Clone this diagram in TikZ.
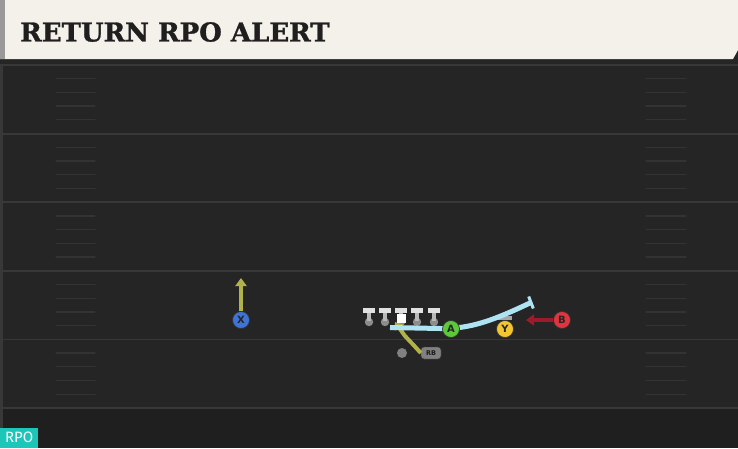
\documentclass[tikz,border=0pt]{standalone}
\usepackage{fontspec}
\newfontfamily\titlefont{DejaVu Serif Bold}[FakeBold=1.2]
\newfontfamily\labelfont{DejaVu Sans Bold}
\newfontfamily\badgefont{Fira Sans}
\usetikzlibrary{arrows.meta,calc}
\definecolor{field}{HTML}{252525}
\definecolor{yard}{HTML}{383838}
\definecolor{hash}{HTML}{333333}
\definecolor{cream}{HTML}{F4F1EA}
\definecolor{route}{HTML}{AEE4F2}
\definecolor{olive}{HTML}{B2B24A}
\definecolor{xblue}{HTML}{3D74D6}
\definecolor{agreen}{HTML}{5CC83A}
\definecolor{yyellow}{HTML}{F2C531}
\definecolor{bred}{HTML}{E0343F}
\definecolor{darkred}{HTML}{9C1A2A}
\definecolor{teal}{HTML}{1CC6B8}
\tikzset{
  player/.style={circle, draw=black!80, line width=0.7pt, minimum size=17pt, inner sep=0pt, font=\labelfont\fontsize{10}{10}\selectfont, text=black!85},
  lineman/.style={line width=4.6pt, draw=black!12},
  stem/.style={line width=4.4pt, draw=black!28},
  yardline/.style={draw=yard, line width=1.8pt},
  hashmark/.style={draw=hash, line width=1.3pt, line cap=round},
}
\begin{document}
\begin{tikzpicture}[x=1pt,y=-1pt]
\useasboundingbox (0,0) rectangle (738,448);
% field
\fill[field] (0,0) rectangle (738,448);
\fill[black!85] (0,59) rectangle (738,65);
\fill[black!88!white] (0,408) rectangle (738,448);
\fill[yard] (0,65) rectangle (2.5,448);
\foreach \k in {0,...,5}{
  \draw[yardline] (0,65+68.6*\k) -- (738,65+68.6*\k);
}
\foreach \k in {0,...,4}{
  \foreach \j in {1,...,4}{
    \draw[hashmark] (56,65+68.6*\k+13.7*\j) -- (95,65+68.6*\k+13.7*\j);
    \draw[hashmark] (646,65+68.6*\k+13.7*\j) -- (686,65+68.6*\k+13.7*\j);
  }
}
% header
\fill[cream] (0,0) -- (738,0) -- (738,50) -- (733,59) -- (0,59) -- cycle;
\fill[black!40] (0,0) rectangle (5,59);
\node[anchor=west, inner sep=0pt, font=\titlefont\fontsize{26}{26}\selectfont, text=black!88] (title) at (20,32) {RETURN RPO ALERT};
% badge
\node[fill=teal, anchor=south west, minimum width=38pt, minimum height=20pt, inner sep=0pt, text=white, font=\badgefont\fontsize{15}{15}\selectfont] (rpo) at (0,448) {RPO};
% offensive line
\foreach \x/\n in {369/l1,385/l2,401/l3,417/l4,434/l5}{
  \fill[black!45] (\x,322) circle (4.2pt);
  \draw[stem] (\x,311) -- (\x,321);
  \draw[lineman] (\x-6,310.5) -- (\x+6,310.5);
  \coordinate (\n) at (\x,316);
}
% RB
\node[circle, fill=black!50, minimum size=10pt, inner sep=0pt] (qb) at (402,353) {};
\node[fill=black!50, draw=black!80, rounded corners=3pt, minimum width=20pt, minimum height=12pt, inner sep=0pt, text=black!90, font=\labelfont\fontsize{6.5}{6.5}\selectfont] (rb) at (431,353) {RB};
\draw[olive, line width=4pt, line join=round, -{Triangle[length=7pt,width=10pt]}] (rb.west) -- (414,345.5) -- (405,336) -- (395,322);
\node[fill=white, minimum size=9pt, inner sep=0pt] (center) at (401,318) {};
% blocking route
\coordinate (rs) at (390,327.5);
\coordinate (re) at (531,302.5);
\fill[black!35] (498,315.5) rectangle (512,320);
\draw[route, line width=5pt] (rs) -- (440,328.5) .. controls (470,329) and (492,321) .. (re);
\draw[route, line width=3pt] ($(re)+(-2.3,-6)$) -- ($(re)+(2.3,6)$);
\node[player, fill=agreen] (A) at (451,329) {A};
\node[player, fill=yyellow] (Y) at (505,329) {Y};
% X
\node[player, fill=xblue] (X) at (241,320) {X};
\coordinate (xend) at (241,278);
\draw[olive, line width=4pt, -{Triangle[length=8pt,width=11pt]}] (X.north) -- (xend);
% B
\node[player, fill=bred] (B) at (562,320) {B};
\coordinate (bend) at (526,320);
\draw[darkred, line width=4pt, -{Triangle[length=8pt,width=11pt]}] (B.west) -- (bend);
\end{tikzpicture}
\end{document}
